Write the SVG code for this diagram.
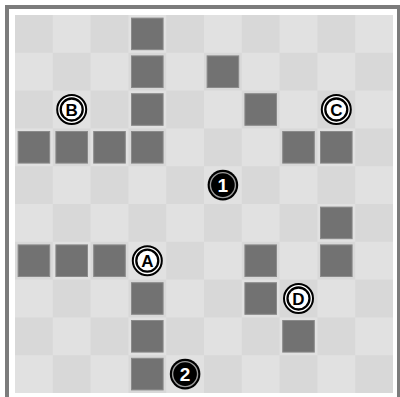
<svg xmlns="http://www.w3.org/2000/svg" width="400" height="397" viewBox="0 0 400 397">
<style>
.wall{fill:#727272;stroke:#8a8a8a;stroke-width:1}
.ring{fill:#fff;stroke:#000;stroke-width:2}
.ring2{fill:none;stroke:#000;stroke-width:2.3}
.ltr{font-family:"Liberation Sans",Arial,sans-serif;font-weight:bold;font-size:17px;text-anchor:middle;fill:#000}
.disc{fill:#000}
.disc2{fill:none;stroke:#9a9a9a;stroke-width:1.4}
.num{font-family:"Liberation Sans",Arial,sans-serif;font-weight:bold;font-size:19px;text-anchor:middle;fill:#fff}
</style>
<defs>
<pattern id="chk" patternUnits="userSpaceOnUse" x="15" y="15" width="75.6" height="75.6">
<rect width="75.6" height="75.6" fill="#e1e1e1"/>
<rect width="37.8" height="37.8" fill="#d8d8d8"/>
<rect x="37.8" y="37.8" width="37.8" height="37.8" fill="#d8d8d8"/>
</pattern>
</defs>
<rect width="400" height="397" fill="#fff"/>
<rect x="7" y="7" width="392" height="392" fill="none" stroke="#7c7c7c" stroke-width="4"/>
<g id="board">
<rect x="15" y="15" width="378" height="378" fill="url(#chk)"/>
</g>
<g id="walls">
<rect class="wall" x="131.5" y="18.1" width="31.6" height="31.6"/>
<rect class="wall" x="131.5" y="55.9" width="31.6" height="31.6"/>
<rect class="wall" x="207.1" y="55.9" width="31.6" height="31.6"/>
<rect class="wall" x="131.5" y="93.7" width="31.6" height="31.6"/>
<rect class="wall" x="244.9" y="93.7" width="31.6" height="31.6"/>
<rect class="wall" x="18.1" y="131.5" width="31.6" height="31.6"/>
<rect class="wall" x="55.9" y="131.5" width="31.6" height="31.6"/>
<rect class="wall" x="93.7" y="131.5" width="31.6" height="31.6"/>
<rect class="wall" x="131.5" y="131.5" width="31.6" height="31.6"/>
<rect class="wall" x="282.7" y="131.5" width="31.6" height="31.6"/>
<rect class="wall" x="320.5" y="131.5" width="31.6" height="31.6"/>
<rect class="wall" x="320.5" y="207.1" width="31.6" height="31.6"/>
<rect class="wall" x="18.1" y="244.9" width="31.6" height="31.6"/>
<rect class="wall" x="55.9" y="244.9" width="31.6" height="31.6"/>
<rect class="wall" x="93.7" y="244.9" width="31.6" height="31.6"/>
<rect class="wall" x="244.9" y="244.9" width="31.6" height="31.6"/>
<rect class="wall" x="320.5" y="244.9" width="31.6" height="31.6"/>
<rect class="wall" x="131.5" y="282.7" width="31.6" height="31.6"/>
<rect class="wall" x="244.9" y="282.7" width="31.6" height="31.6"/>
<rect class="wall" x="131.5" y="320.5" width="31.6" height="31.6"/>
<rect class="wall" x="282.7" y="320.5" width="31.6" height="31.6"/>
<rect class="wall" x="131.5" y="358.3" width="31.6" height="31.6"/>
</g>
<g id="connectors"></g>
<g id="markerA" transform="translate(147.3,260.7)">
<circle class="ring" r="14.5"/><circle class="ring2" r="11"/><text class="ltr" y="6.1">A</text>
</g>
<g id="markerB" transform="translate(71.7,109.5)">
<circle class="ring" r="14.5"/><circle class="ring2" r="11"/><text class="ltr" y="6.1">B</text>
</g>
<g id="markerC" transform="translate(336.3,109.5)">
<circle class="ring" r="14.5"/><circle class="ring2" r="11"/><text class="ltr" y="6.1">C</text>
</g>
<g id="markerD" transform="translate(298.5,298.5)">
<circle class="ring" r="14.5"/><circle class="ring2" r="11"/><text class="ltr" y="6.1">D</text>
</g>
<g id="start1" transform="translate(222.9,185.1)">
<circle class="disc" r="15.3"/><circle class="disc2" r="12.5"/><text class="num" y="6.8">1</text>
</g>
<g id="start2" transform="translate(185.1,374.1)">
<circle class="disc" r="15.3"/><circle class="disc2" r="12.5"/><text class="num" y="6.8">2</text>
</g>
</svg>
